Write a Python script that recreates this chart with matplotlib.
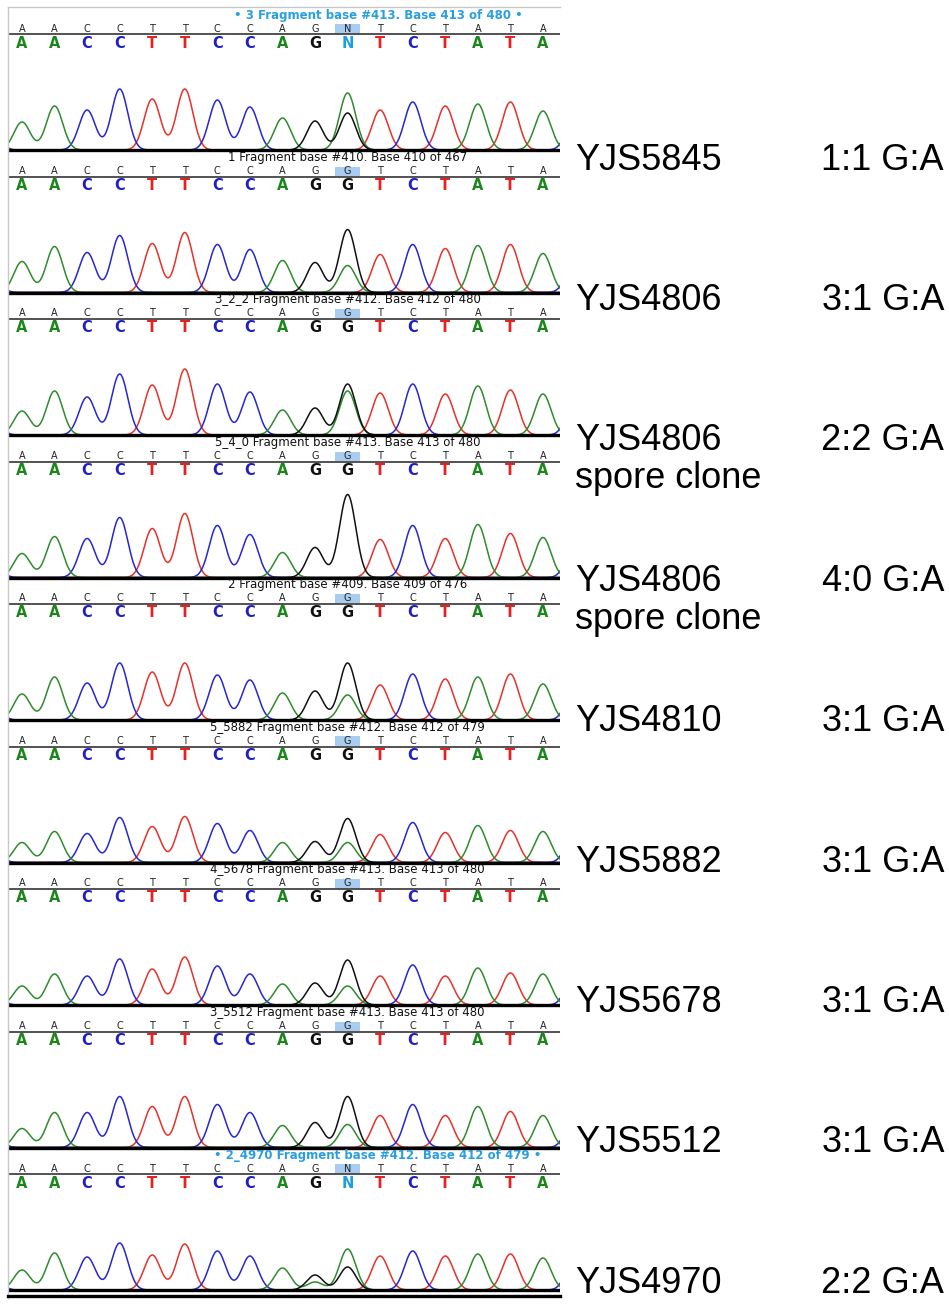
import numpy as np
import matplotlib.pyplot as plt
from matplotlib.patches import Rectangle
from matplotlib.lines import Line2D

# ---- data ----
sequences = [
    'AACCTTCCAGNTCTATA',
    'AACCTTCCAGGTCTATA',
    'AACCTTCCAGGTCTATA',
    'AACCTTCCAGGTCTATA',
    'AACCTTCCAGGTCTATA',
    'AACCTTCCAGGTCTATA',
    'AACCTTCCAGGTCTATA',
    'AACCTTCCAGGTCTATA',
    'AACCTTCCAGNTCTATA',
]

headers = [
    '\u2022 3 Fragment base #413. Base 413 of 480 \u2022',
    '1 Fragment base #410. Base 410 of 467',
    '3_2_2 Fragment base #412. Base 412 of 480',
    '5_4_0 Fragment base #413. Base 413 of 480',
    '2 Fragment base #409. Base 409 of 476',
    '5_5882 Fragment base #412. Base 412 of 479',
    '4_5678 Fragment base #413. Base 413 of 480',
    '3_5512 Fragment base #413. Base 413 of 480',
    '\u2022 2_4970 Fragment base #412. Base 412 of 479 \u2022',
]

strains = ['YJS5845', 'YJS4806', 'YJS4806', 'YJS4806', 'YJS4810',
           'YJS5882', 'YJS5678', 'YJS5512', 'YJS4970']
notes = ['', '', 'spore clone', 'spore clone', '', '', '', '', '']
ratios = ['1:1 G:A', '3:1 G:A', '2:2 G:A', '4:0 G:A', '3:1 G:A',
          '3:1 G:A', '3:1 G:A', '3:1 G:A', '2:2 G:A']

# peak height of the called base at each position (position 10 = G peak)
peak_heights = [
    [28, 44, 40, 61, 51, 61, 50, 43, 32, 29, 37, 40, 48, 44, 46, 48, 39],
    [31, 46, 40, 57, 49, 60, 48, 43, 32, 30, 63, 38, 48, 44, 47, 48, 39],
    [24, 44, 38, 61, 50, 66, 51, 43, 25, 27, 51, 42, 51, 41, 49, 45, 41],
    [24, 41, 39, 60, 49, 64, 52, 43, 25, 30, 83, 38, 52, 39, 53, 44, 40],
    [26, 43, 37, 57, 48, 57, 45, 40, 27, 29, 57, 35, 46, 41, 43, 46, 36],
    [20, 31, 29, 45, 36, 46, 39, 32, 20, 21, 44, 28, 40, 30, 37, 32, 31],
    [19, 31, 29, 46, 36, 48, 39, 31, 21, 22, 45, 29, 40, 29, 37, 32, 31],
    [19, 35, 35, 51, 41, 51, 43, 35, 22, 25, 51, 32, 43, 32, 41, 36, 32],
    [20, 37, 33, 47, 35, 46, 39, 34, 22, 15, 23, 34, 39, 34, 36, 36, 32],
]
# A (green) peak under the G site at position 10
a_at_site = [57, 27, 44, 0, 25, 20, 19, 23, 41]
# small A bump under the G at position 9
a_at_prev = [0, 0, 0, 0, 0, 0, 0, 0, 8]
# C peaks just outside the window (left, right)
flank_c = [30, 40]

site = 10
trace_colors = {'A': '#2e8b2e', 'C': '#2626d2', 'G': '#111111', 'T': '#e6312a'}
letter_colors = {'A': '#1c861c', 'C': '#1f1fc4', 'G': '#111111', 'T': '#e42222',
                 'N': '#1c9ee0'}

W, H = 949, 1309
fig = plt.figure(figsize=(W / 100, H / 100), dpi=100)
fig.patch.set_facecolor('white')

step = 32.56
x0 = (8 - 22) / step
x1 = (560 - 22) / step
xs = np.linspace(-1.6, 17.6, 2000)
sigma = 0.25


def peak(pos, height):
    return height * np.exp(-(xs - pos) ** 2 / (2 * sigma ** 2))


for k in range(len(sequences)):
    seq = sequences[k]
    base = 150 + 142.5 * k
    ax = fig.add_axes([8 / W, 1 - (base + 3) / H, 552 / W, 146 / H])
    ax.set_xlim(x0, x1)
    ax.set_ylim(-3, 143)
    ax.axis('off')

    # traces
    traces = {c: np.zeros_like(xs) for c in 'ACGT'}
    for i, b in enumerate(seq):
        ch = 'G' if b == 'N' else b
        traces[ch] += peak(i, peak_heights[k][i])
    traces['A'] += peak(site, a_at_site[k])
    traces['A'] += peak(site - 1, a_at_prev[k])
    traces['C'] += peak(-1, flank_c[0]) + peak(len(seq), flank_c[1])
    for ch in 'TCAG':
        ax.plot(xs, traces[ch], color=trace_colors[ch], lw=1.1)
    ax.axhline(0, color='black', lw=2.4)

    # base calls
    ax.axhline(116, color='#444444', lw=1.3)
    ax.add_patch(Rectangle((site - 0.39, 116.5), 0.78, 9.5,
                           facecolor='#a8cdf0', edgecolor='none'))
    for i, b in enumerate(seq):
        ax.text(i, 121.5, b, ha='center', va='center', fontsize=7,
                color='#222222')
        ax.text(i, 107, b, ha='center', va='center', fontsize=10.5,
                fontweight='bold', color=letter_colors[b])

    if headers[k].startswith('\u2022'):
        ax.text((378 - 22) / step, 135, headers[k], ha='center', va='center',
                fontsize=8.5, fontweight='bold', color='#2a9fe0')
    else:
        ax.text(site, 135, headers[k], ha='center', va='center',
                fontsize=8.5, color='#111111')

    # sample labels
    ly = 160 + 140.4 * k
    fig.text(575 / W, 1 - ly / H, strains[k], fontsize=26,
             family='Liberation Sans', va='center', ha='left')
    fig.text(944 / W, 1 - ly / H, ratios[k], fontsize=26,
             family='Liberation Sans', va='center', ha='right')
    if notes[k]:
        fig.text(575 / W, 1 - (ly + 38) / H, notes[k], fontsize=26,
                 family='Liberation Sans', va='center', ha='left')

# frame lines of the trace window
fig.add_artist(Line2D([8 / W, 560 / W], [1 - 7 / H] * 2, color='#c8c8c8',
                      lw=1, transform=fig.transFigure))
fig.add_artist(Line2D([8 / W, 8 / W], [1 - 7 / H, 1 - 1298 / H],
                      color='#c8c8c8', lw=1, transform=fig.transFigure))
fig.add_artist(Line2D([8 / W, 560 / W], [1 - 1296 / H] * 2, color='black',
                      lw=2.4, transform=fig.transFigure))

fig.savefig('out.png', dpi=100)
